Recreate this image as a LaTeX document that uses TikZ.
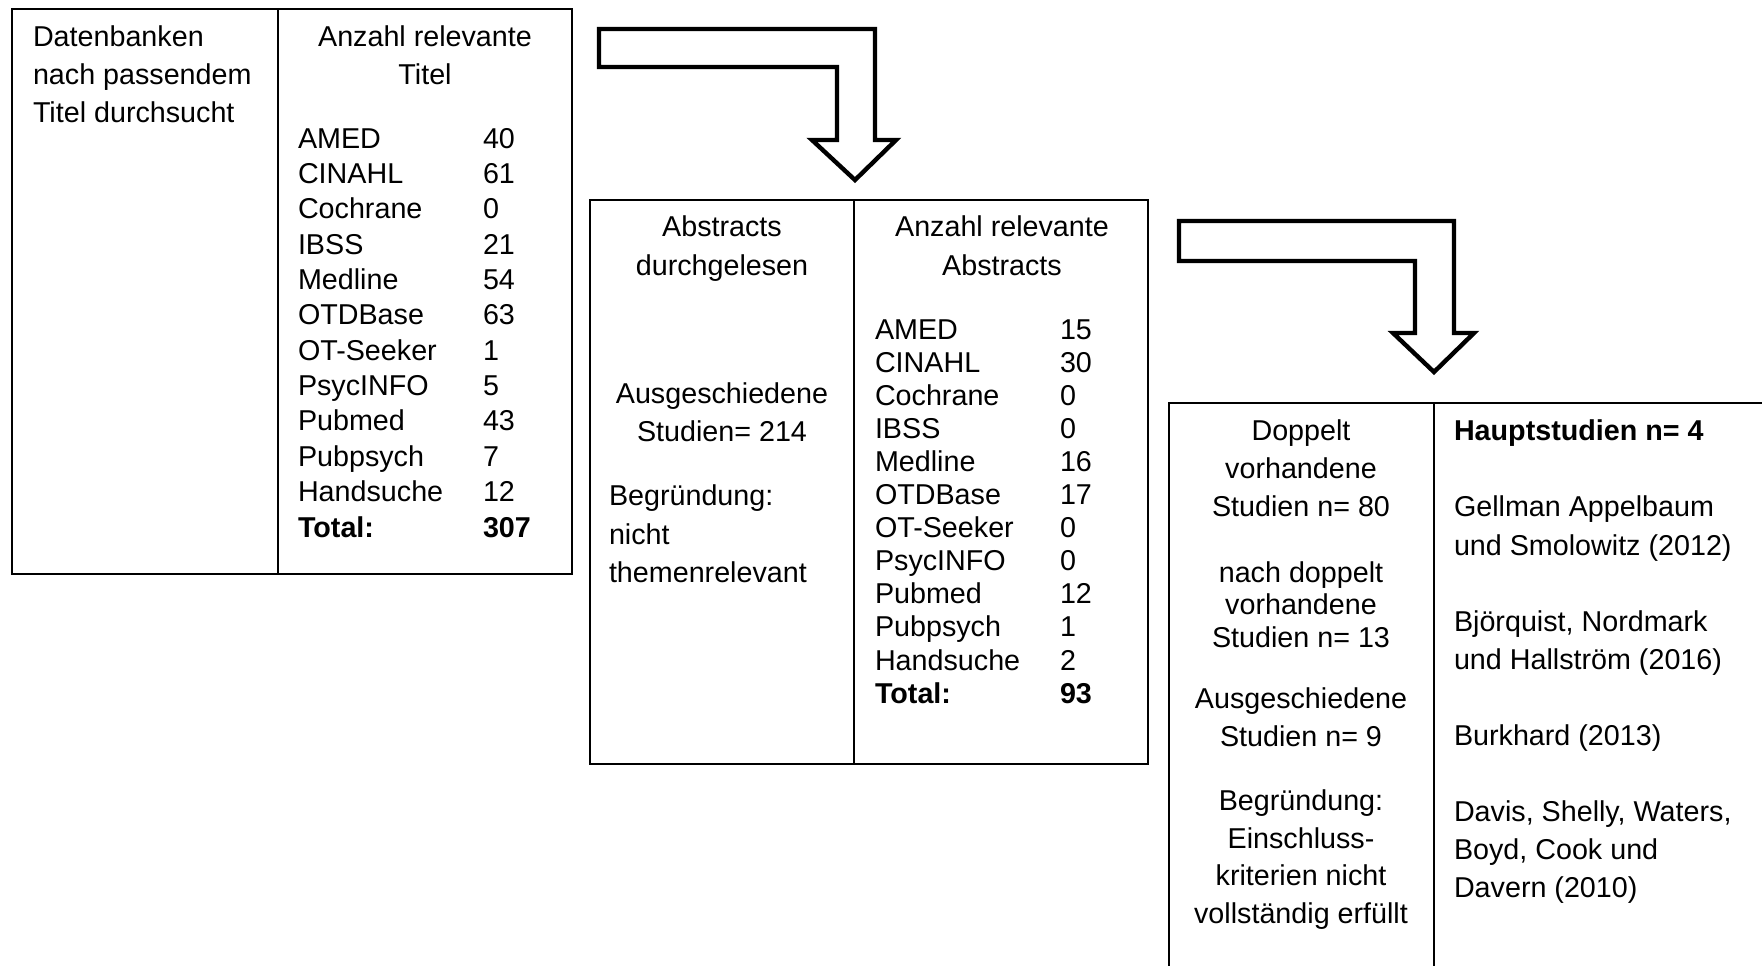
\documentclass[tikz,border=0pt]{standalone}
\usepackage{fontspec}
\setmainfont{Liberation Sans}
\begin{document}
\begin{tikzpicture}[x=0.5pt,y=-0.5pt,
  cell/.style={draw=black,line width=1pt,inner sep=0pt,outer sep=0pt,anchor=north west},
  bigarrow/.style={draw=black,line width=2.2pt,fill=white,line join=miter},
  txt/.style={inner sep=0pt,outer sep=0pt,font=\fontsize{14.35}{17}\selectfont},
  lt/.style={txt,anchor=base west},
  ct/.style={txt,anchor=base},
  bt/.style={txt,anchor=base west,font=\fontsize{14.35}{17}\selectfont\bfseries}]
\useasboundingbox (0,0) rectangle (1762,965);
\clip (0,0) rectangle (1762,965);
\fill[white] (0,0) rectangle (1762,965);

% box 1
\node[cell,minimum width=133pt,minimum height=282.5pt] (b1a) at (12,9) {};
\node[cell,minimum width=147pt,minimum height=282.5pt] (b1b) at (278,9) {};
\node[lt] (t1a) at (33,46) {Datenbanken};
\node[lt] (t1b) at (33,84) {nach passendem};
\node[lt] (t1c) at (33,122) {Titel durchsucht};
\node[ct] (h1a) at (425,46) {Anzahl relevante};
\node[ct] (h1b) at (425,84) {Titel};
\foreach \nm/\v [count=\i from 0] in {AMED/40,CINAHL/61,Cochrane/0,IBSS/21,Medline/54,OTDBase/63,OT-Seeker/1,PsycINFO/5,Pubmed/43,Pubpsych/7,Handsuche/12}{
  \node[lt] (an\i) at (298,148+35.35*\i) {\nm};
  \node[lt] (av\i) at (483,148+35.35*\i) {\v};
}
\node[bt] (atl) at (298,537) {Total:};
\node[bt] (atv) at (483,537) {307};

% arrow 1
\draw[bigarrow] (599,29) -- (875,29) -- (875,140) -- (896,140) -- (855,180) -- (812,140) -- (837,140) -- (837,67) -- (599,67) -- cycle;

% box 2
\node[cell,minimum width=132pt,minimum height=282pt] (b2a) at (590,200) {};
\node[cell,minimum width=147pt,minimum height=282pt] (b2b) at (854,200) {};
\node[ct] (t2a) at (722,236) {Abstracts};
\node[ct] (t2b) at (722,275) {durchgelesen};
\node[ct] (t2c) at (722,403) {Ausgeschiedene};
\node[ct] (t2d) at (722,441.5) {Studien= 214};
\node[lt] (t2e) at (609,505.5) {Begründung:};
\node[lt] (t2f) at (609,544) {nicht};
\node[lt] (t2g) at (609,582) {themenrelevant};
\node[ct] (h2a) at (1002,236) {Anzahl relevante};
\node[ct] (h2b) at (1002,275) {Abstracts};
\foreach \nm/\v [count=\i from 0] in {AMED/15,CINAHL/30,Cochrane/0,IBSS/0,Medline/16,OTDBase/17,OT-Seeker/0,PsycINFO/0,Pubmed/12,Pubpsych/1,Handsuche/2}{
  \node[lt] (bn\i) at (875,339+33.1*\i) {\nm};
  \node[lt] (bv\i) at (1060,339+33.1*\i) {\v};
}
\node[bt] (btl) at (875,703) {Total:};
\node[bt] (btv) at (1060,703) {93};

% arrow 2
\draw[bigarrow] (1179,221) -- (1454,221) -- (1454,333) -- (1474,333) -- (1434,372) -- (1393,333) -- (1415,333) -- (1415,261) -- (1179,261) -- cycle;

% box 3
\node[cell,minimum width=132.5pt,minimum height=320pt] (b3a) at (1169,403) {};
\node[cell,minimum width=200pt,minimum height=320pt] (b3b) at (1434,403) {};
\node[ct] (t3a) at (1301,440) {Doppelt};
\node[ct] (t3b) at (1301,478.6) {vorhandene};
\node[ct] (t3c) at (1301,516.8) {Studien n= 80};
\node[ct] (t3d) at (1301,582) {nach doppelt};
\node[ct] (t3e) at (1301,614.5) {vorhandene};
\node[ct] (t3f) at (1301,647) {Studien n= 13};
\node[ct] (t3g) at (1301,708) {Ausgeschiedene};
\node[ct] (t3h) at (1301,746) {Studien n= 9};
\node[ct] (t3i) at (1301,810) {Begründung:};
\node[ct] (t3j) at (1301,848) {Einschluss-};
\node[ct] (t3k) at (1301,885.5) {kriterien nicht};
\node[ct] (t3l) at (1301,923.6) {vollständig erfüllt};
\node[bt] (r3a) at (1454,440) {Hauptstudien n= 4};
\node[lt] (r3b) at (1454,516.8) {Gellman Appelbaum};
\node[lt] (r3c) at (1454,555) {und Smolowitz (2012)};
\node[lt] (r3d) at (1454,631) {Björquist, Nordmark};
\node[lt] (r3e) at (1454,669.6) {und Hallström (2016)};
\node[lt] (r3f) at (1454,745) {Burkhard (2013)};
\node[lt] (r3g) at (1454,821) {Davis, Shelly, Waters,};
\node[lt] (r3h) at (1454,859.5) {Boyd, Cook und};
\node[lt] (r3i) at (1454,897.7) {Davern (2010)};
\end{tikzpicture}
\end{document}
